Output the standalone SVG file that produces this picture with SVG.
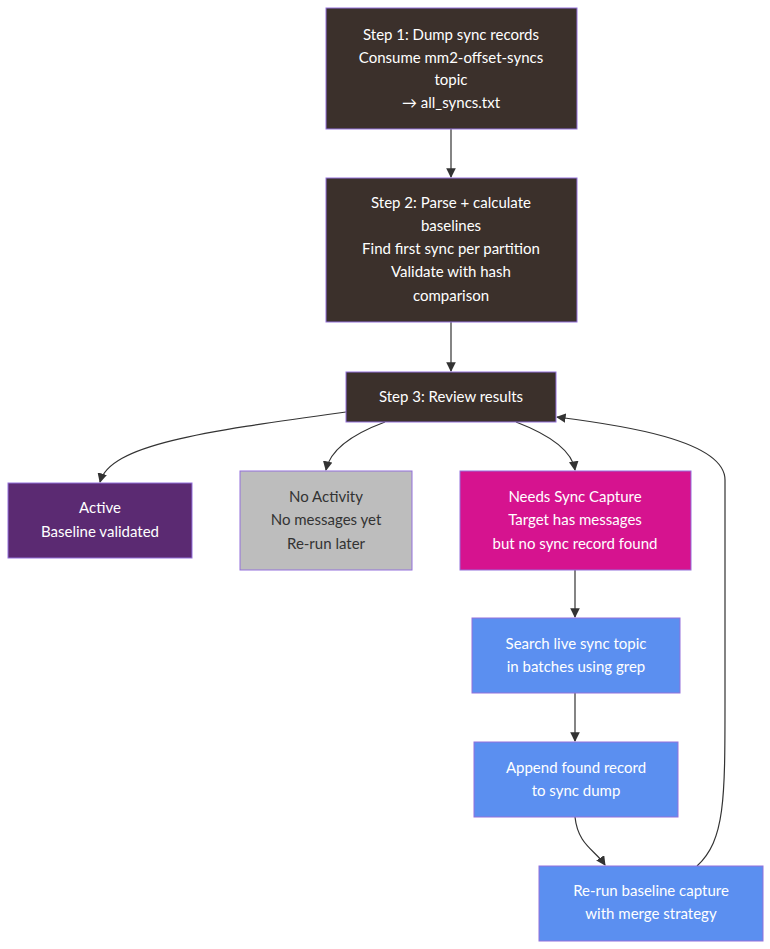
<svg xmlns="http://www.w3.org/2000/svg" width="770" height="949" viewBox="0 0 770 949">
<defs>
<marker id="ah" viewBox="0 0 10 10" refX="9" refY="5" markerWidth="8" markerHeight="8" orient="auto"><path d="M0,0 L10,5 L0,10 z" fill="#333"/></marker>
<style>
text{font-family:"Lato","Liberation Sans",sans-serif;font-size:15px;text-anchor:middle}
.dark rect{fill:#3b302b;stroke:#9370db;stroke-width:1}
.dark text,.pur text,.mag text,.blue text{fill:#fff}
.pur rect{fill:#5b2a72;stroke:#9370db}
.gray rect{fill:#bdbdbd;stroke:#9370db}
.gray text{fill:#333}
.mag rect{fill:#d6138f;stroke:#9370db}
.blue rect{fill:#5b8ff0;stroke:#9370db}
.e{fill:none;stroke:#333;stroke-width:1.2;marker-end:url(#ah)}
</style>
</defs>
<rect width="770" height="949" fill="#fff"/>
<g id="edges">
<path class="e" d="M451,129 L451,177"/>
<path class="e" d="M451,322 L451,371"/>
<path class="e" d="M346,412 C200,432 110,445 100,482"/>
<path class="e" d="M385,422 C350,435 330,450 326,470"/>
<path class="e" d="M516,422 C550,435 572,450 575,470"/>
<path class="e" d="M575,570 L575,617"/>
<path class="e" d="M575,693 L575,741"/>
<path class="e" d="M575,817 C578,845 595,850 605,865"/>
<path class="e" d="M697,866 C725,840 725,800 725,700 L725,480 C725,440 620,425 557,417"/>
</g>
<g id="step1" class="dark"><rect x="326" y="8" width="251" height="121"/>
<text x="451" y="40">Step 1: Dump sync records</text><text x="451" y="63">Consume mm2-offset-syncs</text><text x="451" y="85">topic</text><text x="451" y="108">→ all_syncs.txt</text></g>
<g id="step2" class="dark"><rect x="326" y="178" width="251" height="144"/>
<text x="451" y="208">Step 2: Parse + calculate</text><text x="451" y="231">baselines</text><text x="451" y="254">Find first sync per partition</text><text x="451" y="277">Validate with hash</text><text x="451" y="301">comparison</text></g>
<g id="step3" class="dark"><rect x="346" y="372" width="210" height="50"/>
<text x="451" y="402">Step 3: Review results</text></g>
<g id="active" class="pur"><rect x="8" y="483" width="184" height="75"/>
<text x="100" y="513">Active</text><text x="100" y="537">Baseline validated</text></g>
<g id="noact" class="gray"><rect x="240" y="471" width="172" height="99"/>
<text x="326" y="502">No Activity</text><text x="326" y="525">No messages yet</text><text x="326" y="549">Re-run later</text></g>
<g id="needs" class="mag"><rect x="460" y="471" width="231" height="99"/>
<text x="575" y="502">Needs Sync Capture</text><text x="575" y="525">Target has messages</text><text x="575" y="549">but no sync record found</text></g>
<g id="search" class="blue"><rect x="472" y="618" width="208" height="75"/>
<text x="576" y="649">Search live sync topic</text><text x="576" y="672">in batches using grep</text></g>
<g id="append" class="blue"><rect x="474" y="742" width="204" height="75"/>
<text x="576" y="773">Append found record</text><text x="576" y="796">to sync dump</text></g>
<g id="rerun" class="blue"><rect x="539" y="866" width="224" height="75"/>
<text x="651" y="896">Re-run baseline capture</text><text x="651" y="919">with merge strategy</text></g>
</svg>
